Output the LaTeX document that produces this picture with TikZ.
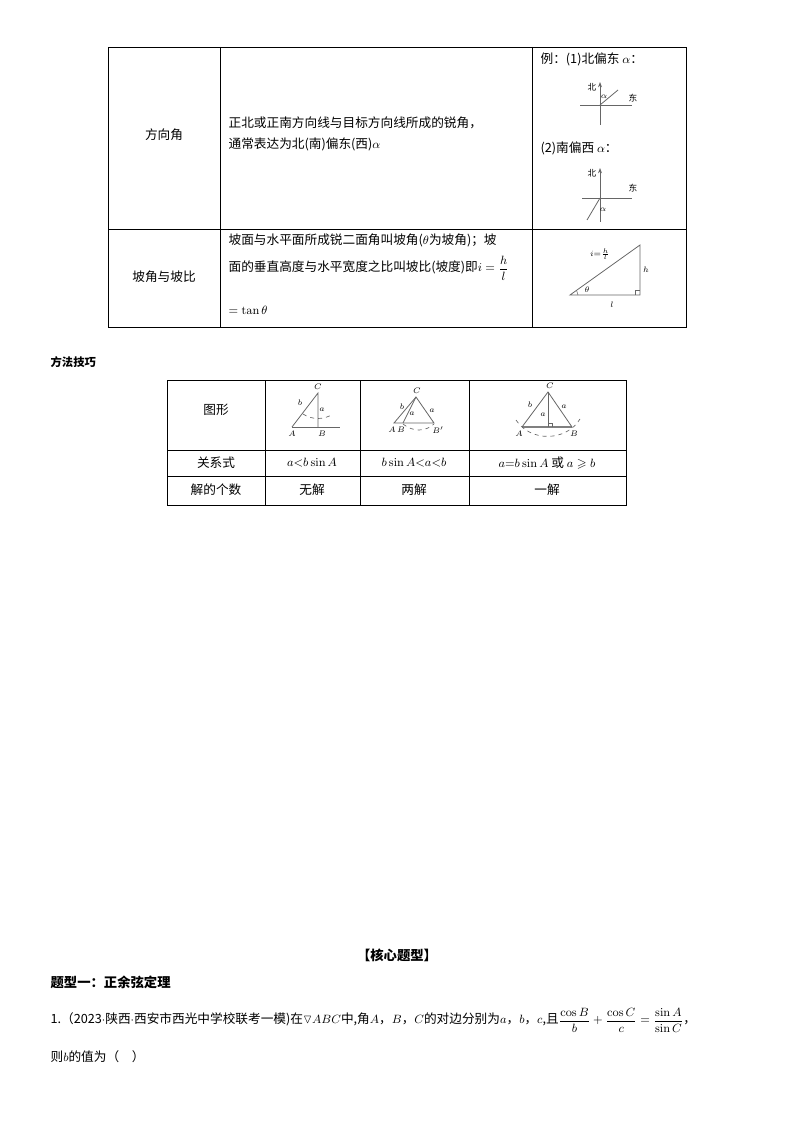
\documentclass[tikz,border=0pt]{standalone}
\usepackage{amsmath,amssymb}
\usepackage[no-math]{fontspec}
\setmainfont{Noto Sans CJK SC}
\usetikzlibrary{arrows.meta}
\tikzset{
  grid/.style={line width=0.6pt},
  txt/.style={font=\fontsize{9.5}{12}\selectfont, inner sep=1pt},
  lbl/.style={font=\fontsize{6.5}{7}\selectfont, inner sep=0.5pt},
  fig/.style={line width=0.6pt, gray!80!black},
  arc/.style={dashed, line width=0.5pt, gray!80!black}
}
\begin{document}
\begin{tikzpicture}[x=0.75pt, y=-0.75pt]
\useasboundingbox (0,0) rectangle (794,1123);

% Table one
\draw [grid] (108,47) rectangle (686,327);
\draw [grid] (108,229) -- (686,229);
\foreach \x in {220,532} {
    \draw [grid] (\x,47) -- (\x,327);
}
\node (dirname) at (164,135) [txt] {方向角};
\node (dirtxt) at (227,134) [txt, anchor=west, align=left] {正北或正南方向线与目标方向线所成的锐角，\\[4pt]通常表达为北(南)偏东(西)$\alpha$};
\node (slopename) at (164,277) [txt] {坡角与坡比};
\node (slopetxt) at (227,240) [txt, anchor=west] {坡面与水平面所成锐二面角叫坡角($\theta$为坡角)；坡};
\node (slopetxt2) at (227,268) [txt, anchor=west] {面的垂直高度与水平宽度之比叫坡比(坡度)即$i=\dfrac{h}{l}$};
\node (slopetxt3) at (227,310) [txt, anchor=west] {$=\tan\theta$};

% Direction examples
\node (ex1) at (539,59) [txt, anchor=west] {例：(1)北偏东 $\alpha$：};
\coordinate (o1) at (600,105);
\draw [fig] (580,105) -- (632,105);
\draw [fig, -{Stealth[length=4pt]}] (600,125) -- (600,82);
\draw [fig] (o1) -- (618,90);
\node at (592,87) [lbl] {北};
\node at (633,98) [lbl] {东};
\node at (604,97) [lbl] {$\alpha$};
\node (ex2) at (539,148) [txt, anchor=west] {(2)南偏西 $\alpha$：};
\coordinate (o2) at (600,198);
\draw [fig] (582,198) -- (632,198);
\draw [fig, -{Stealth[length=4pt]}] (600,222) -- (600,168);
\draw [fig] (o2) -- (587,220);
\node at (592,173) [lbl] {北};
\node at (633,188) [lbl] {东};
\node at (603,210) [lbl] {$\alpha$};

% Slope triangle
\draw [fig] (570,295) -- (640,295) -- (640,245) -- cycle;
\draw [fig, line width=0.4pt] (635,295) -- (635,290) -- (640,290);
\draw [fig, line width=0.4pt] (578,295) arc [start angle=0, end angle=35, radius=6pt];
\node at (587,290) [lbl] {$\theta$};
\node at (612,305) [lbl] {$l$};
\node at (646,270) [lbl] {$h$};
\node at (600,254) [lbl] {$i{=}\frac{h}{l}$};

% Method title
\node (method) at (49,362) [txt, anchor=west, font=\fontsize{8.5}{10}\selectfont\bfseries] {方法技巧};

% Table two
\draw [grid] (167,380) rectangle (626,505);
\foreach \y in {450,476} {
    \draw [grid] (167,\y) -- (626,\y);
}
\foreach \x in {265,360,469} {
    \draw [grid] (\x,380) -- (\x,505);
}
\node (shape) at (216,410) [txt] {图形};
\node (rel) at (216,463) [txt] {关系式};
\node (num) at (216,490) [txt] {解的个数};
\node (rel1) at (312,463) [txt] {$a{<}b\sin A$};
\node (rel2) at (414,463) [txt] {$b\sin A{<}a{<}b$};
\node (rel3) at (547,463) [txt] {$a{=}b\sin A$ 或 $a\geqslant b$};
\node (num1) at (312,490) [txt] {无解};
\node (num2) at (414,490) [txt] {两解};
\node (num3) at (547,490) [txt] {一解};

% Case: no solution
\draw [fig] (292,427) -- (340,427);
\draw [fig] (292,427) -- (318,393) -- (318,427);
\draw [arc] (303,414) .. controls (312,420) and (324,420) .. (333,414);
\node at (318,387) [lbl] {$C$};
\node at (292,434) [lbl] {$A$};
\node at (322,434) [lbl] {$B$};
\node at (300,403) [lbl] {$b$};
\node at (322,410) [lbl] {$a$};

% Case: two solutions
\draw [fig] (394,423) -- (434,423) -- (416,397) -- cycle;
\draw [fig] (403,423) -- (416,397);
\draw [arc] (403,424) .. controls (413,432) and (425,432) .. (434,424);
\node at (417,391) [lbl] {$C$};
\node at (392,430) [lbl] {$A$};
\node at (401,430) [lbl] {$B$};
\node at (438,430) [lbl] {$B'$};
\node at (402,407) [lbl] {$b$};
\node at (412,414) [lbl] {$a$};
\node at (432,411) [lbl] {$a$};

% Case: one solution
\draw [fig, line width=1.2pt, gray] (522,427) -- (572,427);
\draw [fig] (522,427) -- (548,392) -- (572,427);
\draw [fig] (548,392) -- (548,427);
\draw [fig, line width=0.4pt] (548,423) -- (552,423) -- (552,427);
\draw [arc] (516,420) .. controls (530,442) and (566,442) .. (580,419);
\node at (550,386) [lbl] {$C$};
\node at (519,434) [lbl] {$A$};
\node at (574,434) [lbl] {$B$};
\node at (530,405) [lbl] {$b$};
\node at (564,407) [lbl] {$a$};
\node at (543,415) [lbl] {$a$};

% Core types
\node (core) at (397,955) [txt, font=\fontsize{10}{12}\selectfont\bfseries] {【核心题型】};
\node (type1) at (49,982) [txt, anchor=west, font=\fontsize{10}{12}\selectfont\bfseries] {题型一：正余弦定理};
\node (q1) at (49,1020) [txt, anchor=west] {1.（2023$\cdot$陕西$\cdot$西安市西光中学校联考一模)在$\triangledown ABC$中,角$A$，$B$，$C$的对边分别为$a$，$b$，$c$,且$\dfrac{\cos B}{b}+\dfrac{\cos C}{c}=\dfrac{\sin A}{\sin C}$，};
\node (q1b) at (49,1057) [txt, anchor=west] {则$b$的值为（\quad ）};
\end{tikzpicture}
\end{document}
